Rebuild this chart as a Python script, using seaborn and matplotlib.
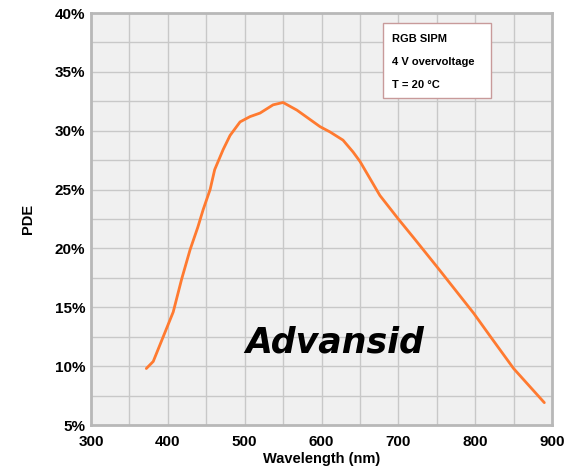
import pandas as pd
import seaborn as sns
import matplotlib.pyplot as plt
from matplotlib.patches import Rectangle
from matplotlib.ticker import MultipleLocator

# Values (wavelength in nm, PDE in %)
wavelength = [372, 381, 394, 407, 418, 429, 439, 446, 455, 461, 472, 481, 494,
              507, 520, 537, 550, 568, 598, 611, 628, 641, 650, 676, 700, 720,
              752, 798, 820, 850, 890]
pde = [9.8, 10.4, 12.5, 14.6, 17.4, 19.9, 21.8, 23.3, 25.0, 26.7, 28.4, 29.6,
       30.75, 31.2, 31.5, 32.2, 32.4, 31.75, 30.35, 29.9, 29.2, 28.2, 27.4,
       24.5, 22.5, 20.9, 18.3, 14.5, 12.5, 9.8, 6.9]

x_ticks = [300, 400, 500, 600, 700, 800, 900]
y_ticks = [5, 10, 15, 20, 25, 30, 35, 40]
y_labels = [f"{v}%" for v in y_ticks]
info_lines = ["RGB SIPM", "4 V overvoltage", "T = 20 °C"]


def plot_pde():
    sns.set_style("whitegrid", {
        "axes.facecolor": "#f0f0f0",
        "grid.color": "#c8c8c8",
        "axes.edgecolor": "#b8b8b8",
        "text.color": "black",
        "axes.labelcolor": "black",
        "xtick.color": "black",
        "ytick.color": "black",
    })
    plt.rcParams['font.family'] = ['Liberation Sans', 'DejaVu Sans']

    data = pd.DataFrame({'wavelength': wavelength, 'pde': pde})

    fig = plt.figure(figsize=(5.77, 4.70), dpi=100)
    ax = fig.add_axes([0.1577, 0.0957, 0.799, 0.8766])
    sns.lineplot(data=data, x='wavelength', y='pde', ax=ax,
                 color='#ff7a30', linewidth=2.0)

    ax.set_xlim(300, 900)
    ax.set_ylim(5, 40)
    ax.set_xticks(x_ticks)
    ax.set_xticklabels([str(v) for v in x_ticks], fontsize=11, fontweight='bold')
    ax.set_yticks(y_ticks)
    ax.set_yticklabels(y_labels, fontsize=11, fontweight='bold')
    ax.xaxis.set_minor_locator(MultipleLocator(50))
    ax.yaxis.set_minor_locator(MultipleLocator(2.5))
    ax.grid(True, which='both', color='#c8c8c8', linewidth=1.0)
    ax.tick_params(which='both', length=0)
    ax.tick_params(axis='x', pad=7)
    ax.tick_params(axis='y', pad=4)
    for s in ax.spines.values():
        s.set_linewidth(2.0)
        s.set_color('#b8b8b8')

    ax.set_xlabel('Wavelength (nm)', fontsize=10.5, fontweight='bold', labelpad=2)
    ax.set_ylabel('PDE', fontsize=10.5, fontweight='bold', labelpad=14)

    # info box in the upper right
    ax.add_patch(Rectangle((0.633, 0.794), 0.234, 0.181, transform=ax.transAxes,
                           facecolor='white', edgecolor='#c89a9a', linewidth=1.0,
                           zorder=4))
    for i, line in enumerate(info_lines):
        ax.text(0.652, 0.937 - i * 0.056, line, transform=ax.transAxes,
                fontsize=8, fontweight='bold', va='center', ha='left', zorder=5)

    ax.text(617, 12.0, 'Advansid', fontsize=25, fontweight='bold',
            style='italic', family='DejaVu Sans', ha='center', va='center')

    plt.savefig('out.png', dpi=100)


if __name__ == "__main__":
    plot_pde()
